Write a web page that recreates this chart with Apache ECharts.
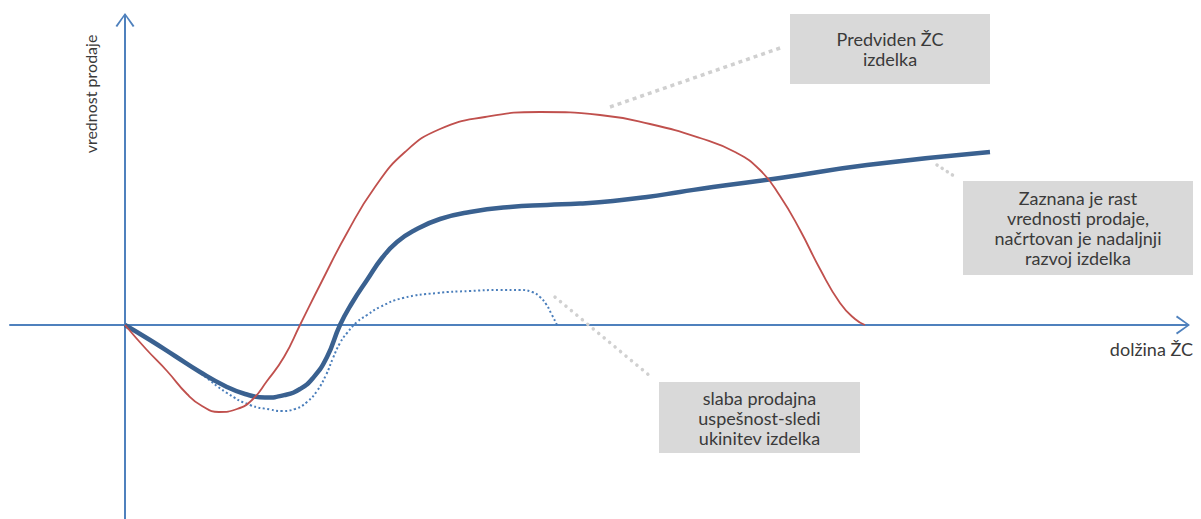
<!DOCTYPE html>
<html>
<head>
<meta charset="utf-8">
<script src="https://cdn.jsdelivr.net/npm/echarts@6/dist/echarts.min.js"></script>
<style>
  html, body { margin: 0; padding: 0; background: #ffffff; }
  #chart { width: 1201px; height: 519px; }
</style>
</head>
<body>
<div id="chart"></div>
<script>
// Product life cycle sketch: time on x, sales value on y (arbitrary units)
const axisNames = { x: 'dolžina ŽC', y: 'vrednost prodaje' };

// planned life cycle (red)
const plannedCurve = [
  [0, 0], [2.1, -2.4], [4.2, -4.6], [6.2, -6.9], [7.7, -8.1], [9.4, -8.7],
  [11.2, -8.4], [12.7, -7.5], [14.2, -5.6], [15.9, -3.2], [17.5, 0], [19.7, 4.4],
  [22.2, 9.2], [25.0, 13.8], [28.0, 17.3], [31.5, 19.6], [36.0, 20.8],
  [41.5, 21.3], [47.5, 21.0], [52.5, 20.1], [57.5, 18.7], [61.0, 17.3],
  [63.5, 15.5], [65.5, 12.9], [67.5, 9.5], [69.5, 5.6], [71.5, 2.2], [73.0, 0.6],
  [74.0, 0]
];

// growing sales, further development (thick blue)
const growthCurve = [
  [0, 0], [2.5, -1.5], [5.0, -3.1], [7.5, -4.7], [10.0, -6.1], [12.0, -6.9],
  [14.0, -7.25], [16.0, -7.0], [17.5, -6.4], [18.8, -5.3], [20.2, -3.2],
  [21.5, 0], [22.7, 2.2], [24.2, 4.5], [25.7, 6.7], [27.2, 8.3], [29.0, 9.5],
  [31.5, 10.6], [34.5, 11.3], [38.5, 11.8], [42.2, 12.0], [45.5, 12.15],
  [48.8, 12.4], [52.2, 12.8], [55.5, 13.3], [58.8, 13.8], [65.5, 14.7],
  [74.2, 16.0], [86.5, 17.3]
];

// weak sales, product withdrawn (dotted blue)
const weakCurve = [
  [0, 0], [2.5, -1.5], [5.0, -3.1], [7.5, -4.8], [10.2, -6.8], [12.5, -8.0],
  [14.5, -8.45], [15.7, -8.6], [17.0, -8.4], [18.2, -7.7], [19.2, -6.6],
  [20.1, -5.0], [20.8, -3.3], [21.5, -1.8], [22.2, -0.8], [23.2, 0.3],
  [24.2, 1.0], [25.5, 1.8], [27.8, 2.7], [31.2, 3.2], [34.5, 3.4], [37.5, 3.5],
  [39.5, 3.5], [40.7, 3.3], [41.5, 2.8], [42.1, 2.1], [42.6, 1.2], [43.2, 0]
];

// callout texts
const calloutPlanned = ['Predviden ŽC', 'izdelka'];
const calloutGrowth = ['Zaznana je rast', 'vrednosti prodaje,', 'načrtovan je nadaljnji', 'razvoj izdelka'];
const calloutWeak = ['slaba prodajna', 'uspešnost-sledi', 'ukinitev izdelka'];

const AXIS_BLUE = '#4F81BD';
const FONT_FAMILY = 'Lato, "Open Sans", "Noto Sans", sans-serif';
const BOX_FONT = '18px ' + FONT_FAMILY;
const LABEL_FONT = '16px ' + FONT_FAMILY;

// open chevron arrow head with a short stem so the axis line reaches the tip
const chevron = 'path://M0,13 L9.5,0 L19,13 L17.3,14 L9.5,2.6 L1.7,14 Z M8.5,1 L10.5,1 L10.5,8 L8.5,8 Z';

function callout(x, y, w, h, lines) {
  return [
    {
      type: 'rect',
      shape: { x: x, y: y, width: w, height: h },
      style: { fill: '#D9D9D9' },
      z: 10
    },
    {
      type: 'text',
      x: x + w / 2,
      y: y + h / 2,
      style: {
        text: lines.join('\n'),
        font: BOX_FONT,
        fill: '#3A3A3A',
        align: 'center',
        verticalAlign: 'middle',
        lineHeight: 20
      },
      z: 11
    }
  ];
}

function leader(x1, y1, x2, y2, dash, cap) {
  return {
    type: 'line',
    shape: { x1: x1, y1: y1, x2: x2, y2: y2 },
    style: { stroke: '#D0D0D0', lineWidth: 3.5, lineDash: dash, lineCap: cap },
    z: 5
  };
}

const chart = echarts.init(document.getElementById('chart'), null, { renderer: 'svg' });

const axisLineCommon = {
  show: true,
  onZero: true,
  symbol: ['none', chevron],
  symbolSize: [19, 14],
  lineStyle: { color: AXIS_BLUE, width: 2 }
};

const lineCommon = {
  type: 'line',
  smooth: 0.5,
  showSymbol: false,
  symbol: 'none'
};

chart.setOption({
  animation: false,
  backgroundColor: '#ffffff',
  grid: { left: 10, right: 18, top: 20, bottom: 0, containLabel: false },
  xAxis: {
    type: 'value',
    min: -11.5,
    max: 105.8,
    axisLine: axisLineCommon,
    axisTick: { show: false },
    axisLabel: { show: false },
    splitLine: { show: false },
    name: axisNames.x,
    nameLocation: 'end',
    nameGap: 10,
    nameTextStyle: {
      fontFamily: FONT_FAMILY,
      fontSize: 18,
      color: '#3A3A3A',
      align: 'right',
      verticalAlign: 'top',
      padding: [15, 0, 0, 0]
    }
  },
  yAxis: {
    type: 'value',
    min: -19.4,
    max: 30.5,
    axisLine: axisLineCommon,
    axisTick: { show: false },
    axisLabel: { show: false },
    splitLine: { show: false }
  },
  series: [
    Object.assign({}, lineCommon, {
      name: 'weak',
      data: weakCurve,
      lineStyle: { color: '#4A7EBB', width: 2, type: [2, 2.5] },
      z: 2
    }),
    Object.assign({}, lineCommon, {
      name: 'growth',
      data: growthCurve,
      lineStyle: { color: '#3A6190', width: 4.5 },
      z: 3
    }),
    Object.assign({}, lineCommon, {
      name: 'planned',
      data: plannedCurve,
      lineStyle: { color: '#C0504D', width: 1.8 },
      z: 4
    })
  ],
  graphic: [
    {
      type: 'text',
      x: 90,
      y: 94,
      rotation: Math.PI / 2,
      style: {
        text: axisNames.y,
        font: LABEL_FONT,
        fill: '#3A3A3A',
        align: 'center',
        verticalAlign: 'middle'
      }
    },
    leader(610, 107, 783, 47, [4, 4], 'butt'),
    leader(937, 165, 954, 176, [0.1, 6], 'round'),
    leader(555, 297, 650, 376, [0.1, 7], 'round')
  ]
    .concat(callout(790, 14, 200, 70, calloutPlanned))
    .concat(callout(963, 181, 230, 94, calloutGrowth))
    .concat(callout(659, 382, 201, 71, calloutWeak))
});
</script>
</body>
</html>
